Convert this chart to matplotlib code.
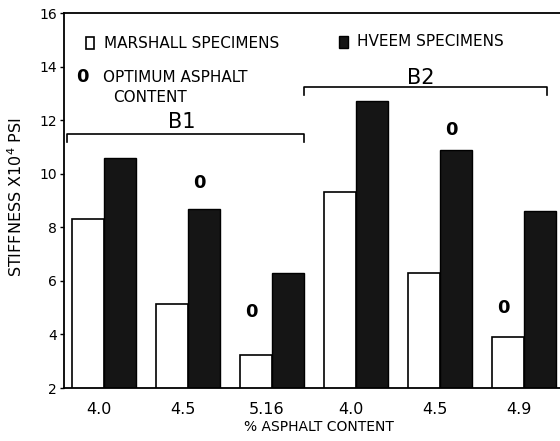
import numpy as np
import matplotlib
matplotlib.use("Agg")
import matplotlib.pyplot as plt
from matplotlib.patches import Rectangle

plt.rcParams['font.family'] = ['Liberation Sans Narrow', 'DejaVu Sans']

# Stiffness (x10^4 psi) for each asphalt content
asphalt = ['4.0', '4.5', '5.16', '4.0', '4.5', '4.9']
marshall = [8.3, 5.15, 3.25, 9.3, 6.3, 3.9]
hveem = [10.6, 8.7, 6.3, 12.7, 10.9, 8.6]

# optimum asphalt content markers: (group, series)
optimum = [(1, 'hveem'), (2, 'marshall'), (4, 'hveem'), (5, 'marshall')]
opt_gap = [0.95, 1.6, 0.75, 1.1]

x = np.arange(len(asphalt))
w = 0.38

fig = plt.figure(figsize=(5.6, 4.41), dpi=100)
ax = fig.add_axes([64 / 560, 1 - 388 / 441, 536 / 560, 375 / 441])

ax.bar(x - w / 2, marshall, w, color='white', edgecolor='black', linewidth=1.2)
ax.bar(x + w / 2, hveem, w, color='#151515', edgecolor='black', linewidth=1.0)

ax.set_ylim(2, 16)
ax.set_xlim(-0.476, 5.905)
ax.set_yticks(np.arange(2, 17, 2))
ax.set_xticks(x - 0.06)
ax.set_xticklabels(asphalt, fontsize=11.5)
ax.tick_params(axis='x', length=0, pad=10)
ax.tick_params(axis='y', length=3, width=1, labelsize=10, pad=2)
for s in ['top', 'left', 'bottom']:
    ax.spines[s].set_linewidth(1.3)
ax.spines['right'].set_visible(False)

ax.set_xlabel('% ASPHALT CONTENT', fontsize=10)
ax.xaxis.set_label_coords(0.475, -0.085)
ax.set_ylabel(r'STIFFNESS X10$^{4}$ PSI', fontsize=11.5)
ax.yaxis.set_label_coords(-0.072, 0.51)

# optimum markers
vals = {'marshall': marshall, 'hveem': hveem}
for (g, s), gap in zip(optimum, opt_gap):
    xo = g - w / 2 if s == 'marshall' else g + w / 2
    ax.text(xo - 0.05, vals[s][g] + gap, '0', fontsize=13, fontweight='bold',
            ha='center', va='center')

# bracket for each mix
def bracket(x0, x1, y, label, ly):
    ax.plot([x0, x0, x1, x1], [y - 0.3, y, y, y - 0.3], color='black', lw=1.2)
    ax.text((x0 + x1) / 2 - 0.05, ly, label, fontsize=15, ha='center', va='center')

bracket(-0.44, 2.38, 11.48, 'B1', 11.93)
bracket(2.38, 5.27, 13.24, 'B2', 13.57)

# legend
ax.add_patch(Rectangle((-0.215, 14.65), 0.1, 0.45, facecolor='white', edgecolor='black', lw=1.2))
ax.text(0.0, 14.88, 'MARSHALL SPECIMENS', fontsize=11, va='center')
ax.add_patch(Rectangle((2.8, 14.69), 0.1, 0.45, facecolor='#151515', edgecolor='black', lw=1.0))
ax.text(3.01, 14.92, 'HVEEM SPECIMENS', fontsize=11, va='center')
ax.text(-0.26, 13.61, '0', fontsize=13, fontweight='bold', ha='center', va='center')
ax.text(-0.01, 13.61, 'OPTIMUM ASPHALT', fontsize=11, va='center')
ax.text(0.55, 12.86, 'CONTENT', fontsize=11, ha='center', va='center')

fig.savefig('out.png', dpi=100)
